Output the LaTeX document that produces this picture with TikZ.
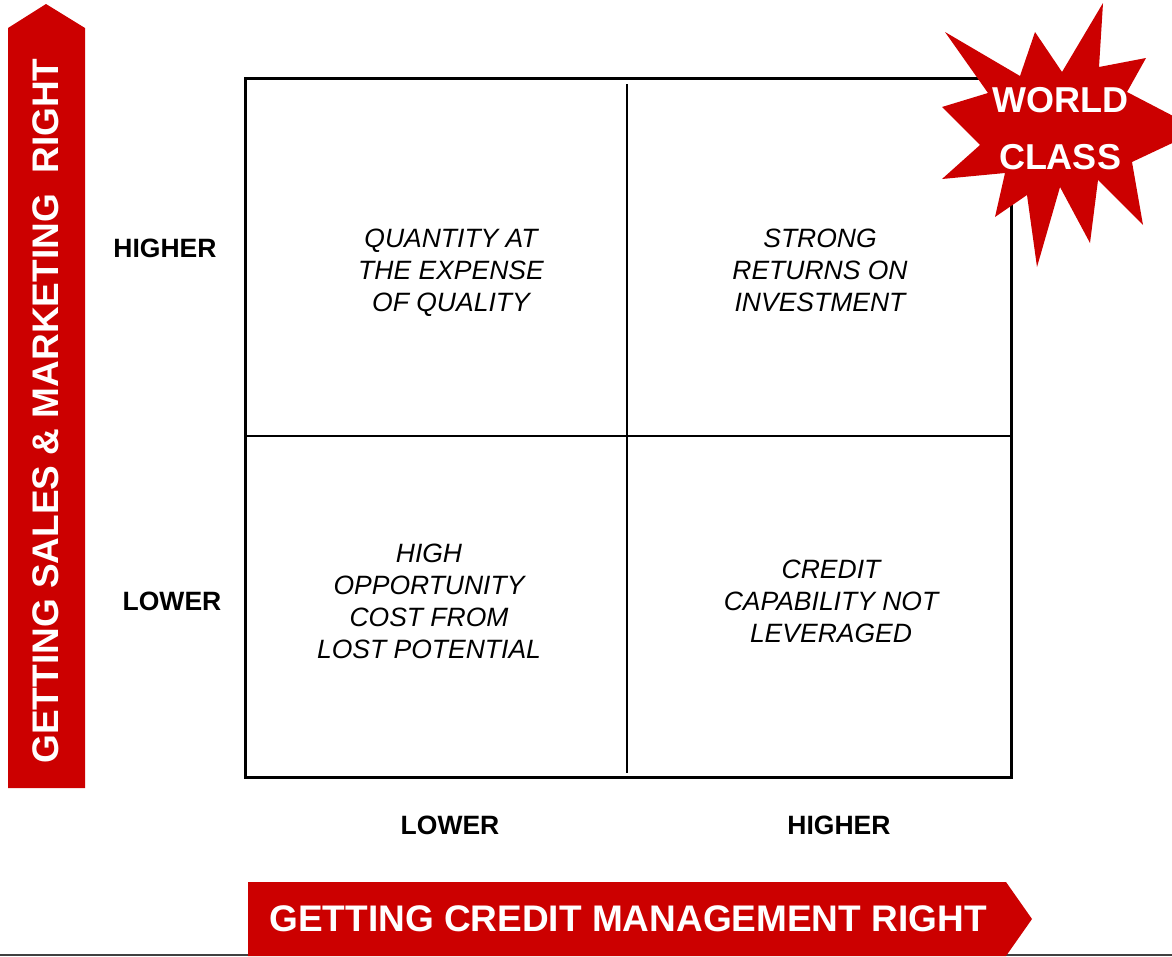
\documentclass[tikz,border=0pt]{standalone}
\usepackage{fontspec}
\setmainfont{Liberation Sans}
\definecolor{brandred}{HTML}{CC0000}
\begin{document}
\begin{tikzpicture}[x=1pt,y=-1pt,
  quad/.style={font=\itshape\fontsize{26.5}{32}\selectfont, align=center, inner sep=0pt},
  axislabel/.style={font=\bfseries\fontsize{26.5}{32}\selectfont, inner sep=0pt},
  banner/.style={fill=brandred, draw=none},
  bannertext/.style={text=white, font=\bfseries\fontsize{37}{44}\selectfont, inner sep=0pt},
  frame/.style={draw=black, line width=3pt},
  divider/.style={draw=black, line width=2pt}]
\useasboundingbox (0,0) rectangle (1172,956);
\fill[white] (0,0) rectangle (1172,956);

% thin rule along the foot of the page
\draw[black!75, line width=1.5pt] (0,955) -- (1172,955);

% the 2x2 grid
\coordinate (nw) at (245,78);
\coordinate (se) at (1011,777);
\coordinate (vtop) at (627,84);
\coordinate (vbot) at (627,773);
\coordinate (hleft) at (245,436);
\coordinate (hright) at (1011,436);
\draw[frame] (nw) rectangle (se);
\draw[divider] (vtop) -- (vbot);
\draw[divider] (hleft) -- (hright);

% quadrant captions
\node[quad] (qtl) at (451,273) {QUANTITY AT\\THE EXPENSE\\OF QUALITY};
\node[quad] (qtr) at (820,270) {STRONG\\RETURNS ON\\INVESTMENT};
\node[quad] (qbl) at (429,601) {HIGH\\OPPORTUNITY\\COST FROM\\LOST POTENTIAL};
\node[quad] (qbr) at (831,601) {CREDIT\\CAPABILITY NOT\\LEVERAGED};

% axis level labels
\node[axislabel] (yhigh) at (165,248) {HIGHER};
\node[axislabel] (ylow) at (172,601) {LOWER};
\node[axislabel] (xlow) at (450,825) {LOWER};
\node[axislabel] (xhigh) at (839,825) {HIGHER};

% vertical banner arrow
\fill[banner] (8,788) -- (8,28) -- (46,4) -- (85,28) -- (85,788) -- cycle;
\node[bannertext, rotate=90] (ytitle) at (46,411) {GETTING SALES \& MARKETING\ \ RIGHT};

% horizontal banner arrow
\fill[banner] (248,882) -- (1006,882) -- (1032,919) -- (1006,956) -- (248,956) -- cycle;
\node[bannertext] (xtitle) at (628,919) {GETTING CREDIT MANAGEMENT RIGHT};

% starburst in the top right corner
\begin{scope}
\clip (0,0) rectangle (1172,956);
\fill[brandred] (945,32) -- (1020,76) -- (1035,32) -- (1062,72) -- (1103,3)
  -- (1099,67) -- (1146,58) -- (1127,92) -- (1200,130) -- (1132,162)
  -- (1143,225) -- (1098,180) -- (1090,243) -- (1060,187) -- (1037,267)
  -- (1027,195) -- (995,217) -- (1005,173) -- (942,179) -- (980,145)
  -- (942,107) -- (988,93) -- cycle;
\end{scope}
\node[text=white, font=\bfseries\fontsize{36}{57}\selectfont, align=center, inner sep=0pt]
  (worldclass) at (1060,129) {WORLD\\CLASS};
\end{tikzpicture}
\end{document}
